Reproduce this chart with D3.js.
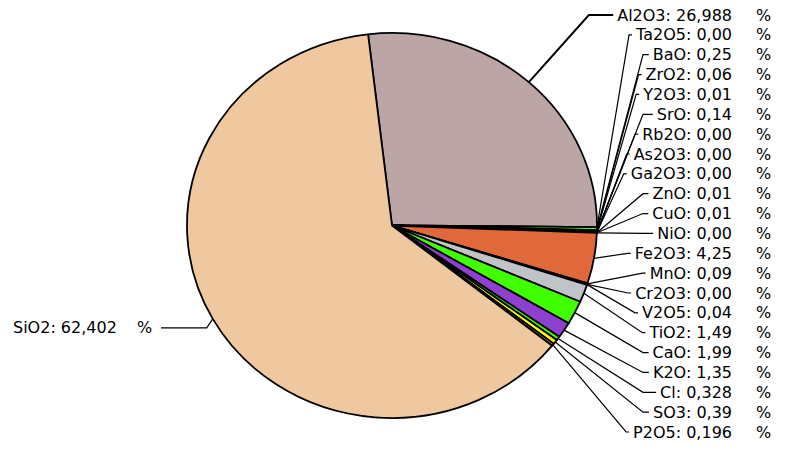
<!DOCTYPE html>
<html>
<head>
<meta charset="utf-8">
<script src="https://cdn.jsdelivr.net/npm/d3@7"></script>
<style>
  body { margin: 0; background: #fff; }
  text { font-family: "DejaVu Sans", Verdana, sans-serif; font-size: 16px; fill: #000; }
</style>
</head>
<body>
<svg id="chart"></svg>
<script>
// oxide composition, in drawing order (clockwise from Al2O3)
const names = ["Al2O3", "Ta2O5", "BaO", "ZrO2", "Y2O3", "SrO", "Rb2O", "As2O3", "Ga2O3",
  "ZnO", "CuO", "NiO", "Fe2O3", "MnO", "Cr2O3", "V2O5", "TiO2", "CaO", "K2O", "Cl",
  "SO3", "P2O5", "SiO2"];
const values = [26.988, 0, 0.25, 0.06, 0.01, 0.14, 0, 0, 0, 0.01, 0.01, 0, 4.25, 0.09,
  0, 0.04, 1.49, 1.99, 1.35, 0.328, 0.39, 0.196, 62.402];
const valueLabels = ["26,988", "0,00", "0,25", "0,06", "0,01", "0,14", "0,00", "0,00", "0,00",
  "0,01", "0,01", "0,00", "4,25", "0,09", "0,00", "0,04", "1,49", "1,99", "1,35", "0,328",
  "0,39", "0,196", "62,402"];
const colors = ["#bca5a5", "#808080", "#40ff00", "#0000c0", "#ff0000", "#000080", "#808000",
  "#008080", "#c000c0", "#40ff00", "#004000", "#400040", "#e0683a", "#804000", "#008000",
  "#800080", "#c0c4c8", "#40ff00", "#9040d0", "#40ff00", "#ffff00", "#ff9900", "#f0c8a0"];

const width = 796, height = 459;
const cx = 392, cy = 225.5, rx = 205, ry = 192.5;

const svg = d3.select("#chart").attr("width", width).attr("height", height);

const data = names.map((n, i) => ({name: n, value: values[i], label: valueLabels[i], color: colors[i]}));

const startAngle = -6.7 * Math.PI / 180;
const pie = d3.pie().sort(null).value(d => d.value)
  .startAngle(startAngle).endAngle(startAngle + 2 * Math.PI);
const arcs = pie(data);

// arcs drawn as a circle of radius ry, stretched horizontally into the ellipse
const arc = d3.arc().innerRadius(0).outerRadius(ry);

svg.append("g")
  .attr("transform", `translate(${cx},${cy}) scale(${rx / ry},1)`)
  .selectAll("path")
  .data(arcs)
  .join("path")
  .attr("d", arc)
  .attr("fill", d => d.data.color)
  .attr("stroke", "#000")
  .attr("stroke-width", 1.8)
  .attr("stroke-linejoin", "round")
  .attr("vector-effect", "non-scaling-stroke");

function edgePoint(a) {
  return [cx + rx * Math.sin(a), cy - ry * Math.cos(a)];
}

const labelsG = svg.append("g");
const rightEnd = 732, pctX = 756;
const rowY = d3.scaleLinear().domain([0, 21]).range([15, 432]);

arcs.forEach((d, i) => {
  const mid = (d.startAngle + d.endAngle) / 2;
  const e = edgePoint(mid);
  const text = `${d.data.name}: ${d.data.label}`;
  let pts;
  if (d.data.name !== "SiO2") {
    const y = rowY(i);
    const t = labelsG.append("text")
      .attr("x", rightEnd).attr("y", y)
      .attr("text-anchor", "end")
      .attr("dominant-baseline", "central")
      .text(text);
    labelsG.append("text")
      .attr("x", pctX).attr("y", y)
      .attr("dominant-baseline", "central")
      .text("%");
    const start = rightEnd - t.node().getComputedTextLength();
    let elbowX = Math.min(start - 7, 643);
    if (d.data.value > 10) elbowX = Math.min(elbowX, e[0] + 60);
    pts = [e, [elbowX, y], [start - 4, y]];
  } else {
    const y = e[1] + 9;
    labelsG.append("text")
      .attr("x", 13).attr("y", y)
      .attr("dominant-baseline", "central")
      .text(text);
    labelsG.append("text")
      .attr("x", 137).attr("y", y)
      .attr("dominant-baseline", "central")
      .text("%");
    pts = [[161, y], [e[0] - 6, y], e];
  }
  labelsG.append("path")
    .attr("d", d3.line()(pts))
    .attr("fill", "none")
    .attr("stroke", "#000")
    .attr("stroke-width", d.data.name === "Al2O3" ? 2 : 1.2);
});
</script>
</body>
</html>
